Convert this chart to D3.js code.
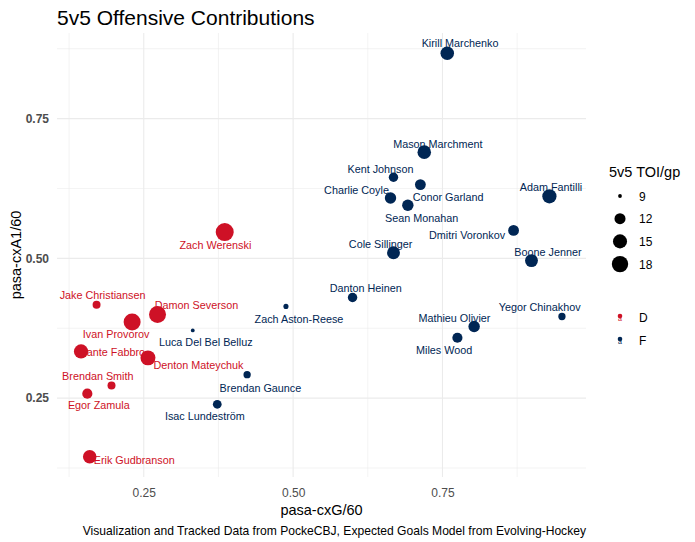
<!DOCTYPE html>
<html lang="en">
<head>
  <meta charset="UTF-8">
  <script src="https://d3js.org/d3.v7.min.js"></script>
  <title>5v5 Offensive Contributions</title>
  <style>
    body { margin: 0; background: #fff; }
    text { font-family: "Liberation Sans", Arial, sans-serif; }
  </style>
</head>
<body>
  <script>
    // values
    const players = [
      "Kirill Marchenko", "Mason Marchment", "Kent Johnson", "Conor Garland",
      "Charlie Coyle", "Sean Monahan", "Adam Fantilli", "Dmitri Voronkov",
      "Cole Sillinger", "Boone Jenner", "Danton Heinen", "Yegor Chinakhov",
      "Mathieu Olivier", "Miles Wood", "Zach Aston-Reese", "Luca Del Bel Belluz",
      "Brendan Gaunce", "Isac Lundeström",
      "Zach Werenski", "Jake Christiansen", "Damon Severson", "Ivan Provorov",
      "Dante Fabbro", "Denton Mateychuk", "Brendan Smith", "Egor Zamula",
      "Erik Gudbranson"
    ]
    const positions = [
      "F", "F", "F", "F", "F", "F", "F", "F", "F", "F", "F", "F", "F", "F",
      "F", "F", "F", "F",
      "D", "D", "D", "D", "D", "D", "D", "D", "D"
    ]
    const cxG60 = [
      0.758, 0.7195, 0.668, 0.713, 0.663, 0.692, 0.929, 0.869, 0.668, 0.899,
      0.5995, 0.950, 0.803, 0.775, 0.488, 0.332, 0.423, 0.373,
      0.3855, 0.171, 0.273, 0.2305, 0.145, 0.257, 0.196, 0.1555, 0.1595
    ]
    const cxA160 = [
      0.867, 0.690, 0.645, 0.632, 0.608, 0.595, 0.611, 0.550, 0.510, 0.496,
      0.430, 0.396, 0.378, 0.358, 0.414, 0.371, 0.292, 0.239,
      0.547, 0.417, 0.3995, 0.386, 0.3335, 0.322, 0.2725, 0.258, 0.145
    ]
    const toiGp = [
      14.4, 14.4, 10.8, 11.8, 12.3, 12.3, 15.2, 11.8, 13.7, 13.7,
      10.8, 9.7, 12.3, 11.3, 9.1, 9.0, 9.7, 10.4,
      20.5, 10.0, 18.9, 18.9, 15.2, 16.1, 10.0, 11.3, 14.4
    ]
    const xTicks = [0.25, 0.50, 0.75]
    const yTicks = [0.25, 0.50, 0.75]
    const xMinor = [0.125, 0.375, 0.625, 0.875]
    const yMinor = [0.125, 0.375, 0.625, 0.875]
    const sizeBreaks = [9, 12, 15, 18]
    const groups = ["D", "F"]

    // repelled label offsets (px from the point: centre x, baseline y)
    const labelNudge = {
      "Kirill Marchenko": [12.8, -5.7], "Mason Marchment": [13.6, -4.4],
      "Kent Johnson": [-13, -4.4], "Conor Garland": [27.7, 16],
      "Charlie Coyle": [-34, -4.4], "Sean Monahan": [13.9, 16.3],
      "Adam Fantilli": [1.6, -5.4], "Dmitri Voronkov": [-46.5, 9],
      "Cole Sillinger": [-12.8, -5], "Boone Jenner": [16.4, -5],
      "Danton Heinen": [13.1, -5.7], "Yegor Chinakhov": [-22.3, -5.7],
      "Mathieu Olivier": [-19.7, -4.4], "Miles Wood": [-13.3, 16],
      "Zach Aston-Reese": [13, 16.6], "Luca Del Bel Belluz": [13, 15.7],
      "Brendan Gaunce": [13.3, 17], "Isac Lundeström": [-12.4, 15.4],
      "Zach Werenski": [-9.3, 16.6], "Jake Christiansen": [6, -5.7],
      "Damon Severson": [39, -5.3], "Ivan Provorov": [-16, 16.4],
      "Dante Fabbro": [31, 5], "Denton Mateychuk": [50.5, 11.3],
      "Brendan Smith": [-13.7, -5.7], "Egor Zamula": [11.5, 15],
      "Erik Gudbranson": [44.5, 7.3]
    }

    const dataset = players.map((p, i) => ({
      name: p, pos: positions[i], x: cxG60[i], y: cxA160[i], toi: toiGp[i]
    }))

    const dimension = {
      width: 695,
      height: 542,
      margin: { top: 33, right: 109, bottom: 65, left: 57 }
    }
    dimension.boundedWidth = dimension.width - dimension.margin.left - dimension.margin.right
    dimension.boundedHeight = dimension.height - dimension.margin.top - dimension.margin.bottom

    const colour = d3.scaleOrdinal().domain(groups).range(["#CE1126", "#002654"])

    const pad = (ext) => {
      const d = (ext[1] - ext[0]) * 0.05
      return [ext[0] - d, ext[1] + d]
    }

    const xScale = d3.scaleLinear()
      .domain(pad(d3.extent(dataset, d => d.x)))
      .range([0, dimension.boundedWidth])
    const yScale = d3.scaleLinear()
      .domain(pad(d3.extent(dataset, d => d.y)))
      .range([dimension.boundedHeight, 0])

    // ggplot-like area size scale: size 1..6, then to a pixel radius
    const toiExt = d3.extent(dataset, d => d.toi)
    const sizeLin = d3.scaleLinear().domain(toiExt).range([0, 1]).clamp(true)
    const radius = v => (2.845 * (1 + 5 * Math.sqrt(sizeLin(v))) + 0.945) / 2

    const svg = d3.select("body").append("svg")
      .attr("width", dimension.width)
      .attr("height", dimension.height)

    const bounds = svg.append("g")
      .attr("transform", `translate(${dimension.margin.left},${dimension.margin.top})`)

    // grid
    const grid = bounds.append("g")
    grid.selectAll(".xminor").data(xMinor).join("line")
      .attr("x1", d => xScale(d)).attr("x2", d => xScale(d))
      .attr("y1", 0).attr("y2", dimension.boundedHeight)
      .attr("stroke", "#ebebeb").attr("stroke-width", 0.6)
    grid.selectAll(".yminor").data(yMinor).join("line")
      .attr("y1", d => yScale(d)).attr("y2", d => yScale(d))
      .attr("x1", 0).attr("x2", dimension.boundedWidth)
      .attr("stroke", "#ebebeb").attr("stroke-width", 0.6)
    grid.selectAll(".xmajor").data(xTicks).join("line")
      .attr("x1", d => xScale(d)).attr("x2", d => xScale(d))
      .attr("y1", 0).attr("y2", dimension.boundedHeight)
      .attr("stroke", "#ebebeb").attr("stroke-width", 1.1)
    grid.selectAll(".ymajor").data(yTicks).join("line")
      .attr("y1", d => yScale(d)).attr("y2", d => yScale(d))
      .attr("x1", 0).attr("x2", dimension.boundedWidth)
      .attr("stroke", "#ebebeb").attr("stroke-width", 1.1)

    // axes
    const xAxis = bounds.append("g")
      .attr("transform", `translate(0,${dimension.boundedHeight})`)
      .call(d3.axisBottom(xScale).tickValues(xTicks).tickFormat(d3.format(".2f")).tickSize(0).tickPadding(11))
    xAxis.select(".domain").remove()
    xAxis.selectAll("text").attr("font-size", 12).attr("fill", "#4d4d4d")
      .style("font-family", "'Liberation Sans', Arial, sans-serif")

    const yAxis = bounds.append("g")
      .call(d3.axisLeft(yScale).tickValues(yTicks).tickFormat(d3.format(".2f")).tickSize(0).tickPadding(8))
    yAxis.select(".domain").remove()
    yAxis.selectAll("text").attr("font-size", 12).attr("font-weight", "bold").attr("fill", "#4d4d4d")
      .style("font-family", "'Liberation Sans', Arial, sans-serif")

    // labels under the points
    bounds.append("g").selectAll("text").data(dataset).join("text")
      .attr("x", d => xScale(d.x) + labelNudge[d.name][0])
      .attr("y", d => yScale(d.y) + labelNudge[d.name][1])
      .attr("text-anchor", "middle")
      .attr("font-size", 10.8)
      .attr("fill", d => colour(d.pos))
      .text(d => d.name)

    bounds.append("g").selectAll("circle").data(dataset).join("circle")
      .attr("cx", d => xScale(d.x))
      .attr("cy", d => yScale(d.y))
      .attr("r", d => radius(d.toi))
      .attr("fill", d => colour(d.pos))

    // titles
    svg.append("text")
      .attr("x", 57).attr("y", 25)
      .attr("font-size", 21).attr("fill", "#000")
      .text("5v5 Offensive Contributions")

    svg.append("text")
      .attr("x", dimension.margin.left + dimension.boundedWidth / 2).attr("y", 515)
      .attr("text-anchor", "middle").attr("font-size", 14.5)
      .text("pasa-cxG/60")

    svg.append("text")
      .attr("transform", `translate(21,${dimension.margin.top + dimension.boundedHeight / 2}) rotate(-90)`)
      .attr("text-anchor", "middle").attr("font-size", 14.5)
      .text("pasa-cxA1/60")

    svg.append("text")
      .attr("x", dimension.margin.left + dimension.boundedWidth).attr("y", 535)
      .attr("text-anchor", "end").attr("font-size", 12.1)
      .text("Visualization and Tracked Data from PockeCBJ, Expected Goals Model from Evolving-Hockey")

    // legend
    const legend = svg.append("g").attr("transform", "translate(609,0)")
    legend.append("text").attr("x", 0).attr("y", 177)
      .attr("font-size", 14.5).text("5v5 TOI/gp")

    const sizeKeys = legend.selectAll(".skey").data(sizeBreaks).join("g")
      .attr("transform", (d, i) => `translate(11,${196 + i * 22.7})`)
    sizeKeys.append("circle").attr("r", d => radius(d)).attr("fill", "#000")
    sizeKeys.append("text").attr("x", 19).attr("y", 4.5)
      .attr("font-size", 12).text(d => d)

    const colKeys = legend.selectAll(".ckey").data(groups).join("g")
      .attr("transform", (d, i) => `translate(11,${317 + i * 23})`)
    colKeys.append("text").attr("x", 0).attr("y", 3.5)
      .attr("text-anchor", "middle").attr("font-size", 7)
      .attr("fill", d => colour(d)).text("a")
    colKeys.append("circle").attr("cy", -1).attr("r", 2.3).attr("fill", d => colour(d))
    colKeys.append("text").attr("x", 19).attr("y", 4.5)
      .attr("font-size", 12).text(d => d)
  </script>
</body>
</html>
